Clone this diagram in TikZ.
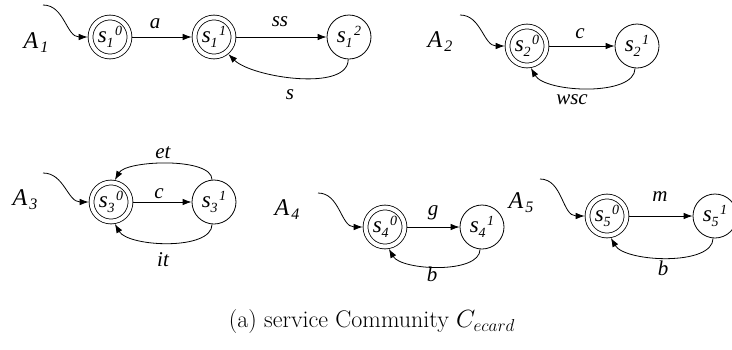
\documentclass[tikz,border=0pt]{standalone}
\usepackage{fontspec}
\newfontfamily\tms{LiberationSerif}[Extension=.ttf,UprightFont=*-Regular,ItalicFont=*-Italic,BoldFont=*-Bold,BoldItalicFont=*-BoldItalic]
\usetikzlibrary{arrows.meta}
% state name s_i^k with staggered index and exponent
\newcommand\sn[2]{{\tms\itshape\fontsize{23}{23}\selectfont s\raisebox{-5pt}{\fontsize{14}{14}\selectfont #1}\kern1.5pt\raisebox{7pt}{\fontsize{14}{14}\selectfont #2}}}
% automaton name A_i
\newcommand\an[1]{{\tms\itshape\fontsize{24}{24}\selectfont A\kern2pt\raisebox{-4pt}{\fontsize{16}{16}\selectfont #1}}}
\begin{document}
\begin{tikzpicture}[x=1pt,y=1pt,
  state/.style={circle,draw,line width=0.8pt,minimum size=44pt,inner sep=0pt},
  accept/.style={circle,draw,line width=0.8pt,double=white,double distance=4pt,
    minimum size=39pt,inner sep=0pt,outer sep=2.8pt},
  arr/.style={-{Latex[length=9pt,width=6.5pt]},line width=0.8pt},
  lbl/.style={font=\tms\itshape\fontsize{21}{21}\selectfont,inner sep=0pt},
  autlbl/.style={inner sep=0pt}]
\useasboundingbox (0,0) rectangle (732,-349);
\clip (0,0) rectangle (732,-349);

% A1
\node[autlbl] (A1) at (36,-43) {\an{1}};
\node[accept] (s10) at (110,-37) {\sn{1}{0}};
\node[accept] (s11) at (214,-37) {\sn{1}{1}};
\node[state]  (s12) at (349,-37) {\sn{1}{2}};
\coordinate (i1) at (43,-5);
\draw[arr] (i1) to[out=0,in=180] (s10.west);
\draw[arr] (s10) -- (s11);
\draw[arr] (s11) -- (s12);
\draw[arr] (s12.-92) to[out=-90,in=-45,looseness=0.7] (s11.-50);
\node[lbl] (la) at (155,-24) {a};
\node[lbl] (lss) at (280,-22) {ss};
\node[lbl] (ls) at (290,-95) {s};

% A2
\node[autlbl] (A2) at (440,-42) {\an{2}};
\node[accept] (s20) at (527,-46) {\sn{2}{0}};
\node[state]  (s21) at (637,-46) {\sn{2}{1}};
\coordinate (i2) at (460,-15);
\draw[arr] (i2) to[out=0,in=180] (s20.west);
\draw[arr] (s20) -- (s21);
\draw[arr] (s21.-95) to[out=-90,in=-60,looseness=0.7] (s20.-80);
\node[lbl] (lc2) at (580,-34) {c};
\node[lbl] (lwsc) at (572,-100) {wsc};

% A3
\node[autlbl] (A3) at (25,-200) {\an{3}};
\node[accept] (s30) at (111,-202) {\sn{3}{0}};
\node[state]  (s31) at (214,-202) {\sn{3}{1}};
\coordinate (i3) at (43,-173);
\draw[arr] (i3) to[out=0,in=180] (s30.west);
\draw[arr] (s30) -- (s31);
\draw[arr] (s31.95) to[out=90,in=60,looseness=0.6] (s30.80);
\draw[arr] (s31.-95) to[out=-90,in=-60,looseness=0.7] (s30.-80);
\node[lbl] (lc3) at (159,-194) {c};
\node[lbl] (let) at (163,-153) {et};
\node[lbl] (lit) at (163,-260) {it};

% A4
\node[autlbl] (A4) at (287,-210) {\an{4}};
\node[accept] (s40) at (385,-227) {\sn{4}{0}};
\node[state]  (s41) at (482,-227) {\sn{4}{1}};
\coordinate (i4) at (318,-193);
\draw[arr] (i4) to[out=0,in=180] (s40.west);
\draw[arr] (s40) -- (s41);
\draw[arr] (s41.-95) to[out=-90,in=-60,looseness=0.7] (s40.-80);
\node[lbl] (lg) at (433,-213) {g};
\node[lbl] (lb4) at (432,-274) {b};

% A5
\node[autlbl] (A5) at (521,-203) {\an{5}};
\node[accept] (s50) at (607,-216) {\sn{5}{0}};
\node[state]  (s51) at (715,-216) {\sn{5}{1}};
\coordinate (i5) at (540,-179);
\draw[arr] (i5) to[out=0,in=180] (s50.west);
\draw[arr] (s50) -- (s51);
\draw[arr] (s51.-95) to[out=-90,in=-60,looseness=0.7] (s50.-80);
\node[lbl] (lm) at (660,-197) {m};
\node[lbl] (lb5) at (663,-268) {b};

% caption
\node[font=\fontsize{24}{28}\selectfont] (cap) at (372,-322) {(a) service Community $C_{ecard}$};
\end{tikzpicture}
\end{document}
